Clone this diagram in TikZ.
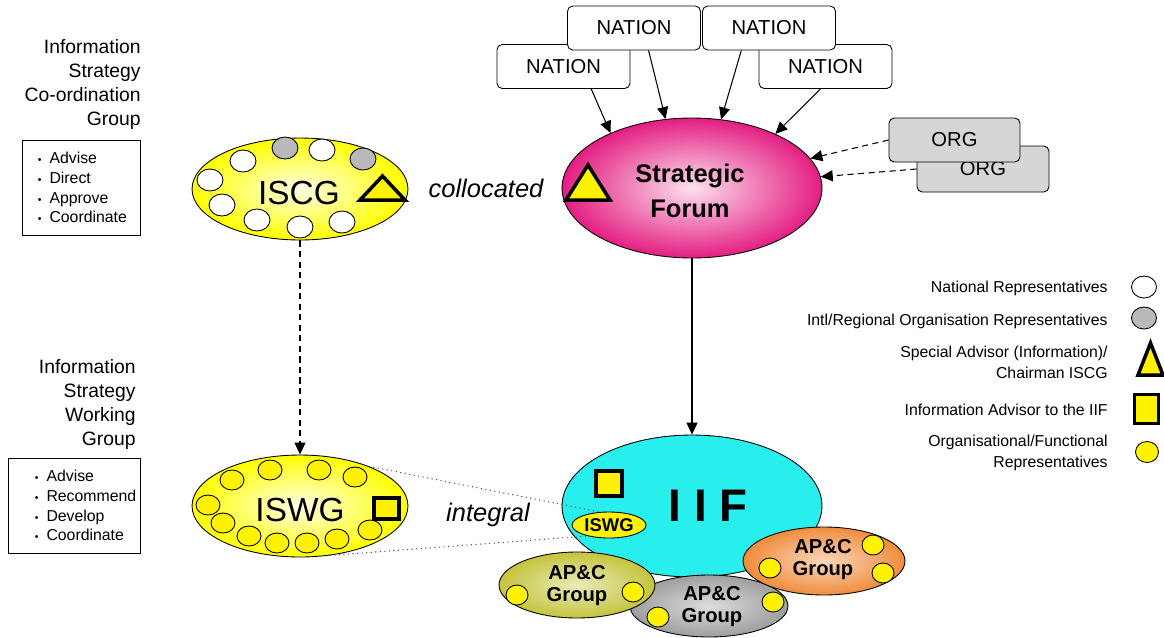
\documentclass[tikz,border=0pt]{standalone}
\usepackage{fontspec}
\setmainfont{Liberation Sans}
\usepackage{tikz}
\usetikzlibrary{shapes,arrows,arrows.meta}
\usetikzlibrary{positioning}

\definecolor{sfpink}{RGB}{228,30,130}
\definecolor{sflight}{RGB}{252,225,238}
\definecolor{iifcyan}{RGB}{40,238,238}
\definecolor{apcolive}{RGB}{196,196,60}
\definecolor{apcgrey}{RGB}{158,158,158}
\definecolor{apcorange}{RGB}{240,140,60}
\definecolor{orggrey}{RGB}{214,214,214}
\definecolor{repgrey}{RGB}{185,185,185}

\newcommand{\dutydot}{{\fontsize{6}{6}\selectfont\textbullet}\enspace}

\tikzset{
  grp/.style={ellipse, draw=black, line width=0.5pt, inner sep=0pt},
  yellowgrp/.style={grp, inner color=yellow!10, outer color=yellow},
  rep/.style={ellipse, draw=black, line width=0.5pt, inner sep=0pt, minimum width=0.52cm, minimum height=0.44cm},
  natrep/.style={rep, fill=white},
  orgrep/.style={rep, fill=repgrey},
  funrep/.style={rep, fill=yellow, minimum width=0.48cm, minimum height=0.40cm},
  chairsym/.style={draw=black, line width=2pt, fill=yellow, line join=miter},
  advsym/.style={draw=black, line width=2pt, fill=yellow, inner sep=0pt},
  nationbox/.style={draw, line width=0.5pt, rounded corners=3pt, fill=white, minimum width=2.66cm, minimum height=0.88cm, font=\fontsize{11.5}{13}\selectfont},
  orgbox/.style={nationbox, fill=orggrey},
  sidetitle/.style={align=right, anchor=east, inner sep=0pt, font=\fontsize{11}{13.8}\selectfont},
  dutybox/.style={draw, line width=0.5pt, minimum height=1.9cm},
  duties/.style={align=left, inner sep=0pt, font=\fontsize{9}{11.3}\selectfont},
  bigname/.style={inner sep=0pt, font=\fontsize{19}{22}\selectfont},
  linkword/.style={inner sep=0pt, font=\fontsize{14.5}{17}\selectfont\itshape},
  apctext/.style={align=center, inner sep=0pt, font=\fontsize{11.5}{12.5}\selectfont\bfseries},
  keytext/.style={align=right, anchor=east, inner sep=0pt, font=\fontsize{9}{11.6}\selectfont},
  flow/.style={-{Triangle[length=2.4mm,width=2.2mm]}, line width=0.6pt},
  link/.style={dotted, line width=0.6pt, black!70}
}

\begin{document}
\begin{tikzpicture}[x=0.02cm,y=-0.02cm]
\useasboundingbox (0,0) rectangle (1164,637);

% left hand titles
\node[sidetitle] (iscgtitle) at (141,84.5) {Information\\Strategy\\Co-ordination\\Group};
\node[dutybox, minimum width=2.36cm] (iscgbox) at (81,187.5) {};
\node[duties, right=0.32cm of iscgbox.west] (iscgduties) {\dutydot Advise\\\dutydot Direct\\\dutydot Approve\\\dutydot Coordinate};

\node[sidetitle] (iswgtitle) at (136,404.5) {Information\\Strategy\\Working\\Group};
\node[dutybox, minimum width=2.64cm] (iswgbox) at (74,505.5) {};
\node[duties, right=0.54cm of iswgbox.west] (iswgduties) {\dutydot Advise\\\dutydot Recommend\\\dutydot Develop\\\dutydot Coordinate};

% ISCG
\node[yellowgrp, minimum width=4.32cm, minimum height=2.04cm] (iscg) at (300,189) {};
\foreach \x/\y in {243/161, 322/150, 210/180, 222/205, 257/220, 300/227, 342/222}
  \node[natrep] (iscg-\x) at (\x,\y) {};
\foreach \x/\y in {285/148, 363/159}
  \node[orgrep] (iscg-\x) at (\x,\y) {};
\node[bigname] (iscgname) at (299,193) {ISCG};
\draw[chairsym] (360,200) -- (382.5,176) -- (405,200) -- cycle;

\node[linkword] (colloc) at (486,188) {collocated};

% nations and orgs
\node[nationbox] (nat3) at (563.5,66.5) {NATION};
\node[nationbox] (nat4) at (825.5,66.5) {NATION};
\node[nationbox] (nat1) at (634,28) {NATION};
\node[nationbox] (nat2) at (769,28) {NATION};
\node[orgbox, minimum width=2.64cm, minimum height=0.92cm] (org2) at (983,169) {ORG};
\node[orgbox, minimum width=2.62cm] (org1) at (954.5,140) {ORG};

% strategic forum
\node[grp, inner color=sflight, outer color=sfpink, minimum width=5.2cm, minimum height=2.8cm] (sf) at (692,188) {};
\node[align=center, inner sep=0pt, font=\fontsize{14.5}{19.5}\selectfont\bfseries] (sfname) at (690,191) {Strategic\\Forum};
\draw[chairsym] (566,200) -- (588,165) -- (610,200) -- cycle;

\draw[flow] (nat3.-39) -- (sf.146);
\draw[flow] (nat1.-57) -- (sf.111);
\draw[flow] (nat2.-141) -- (sf.67);
\draw[flow] (nat4.-103) -- (sf.33);
\draw[flow, dash pattern=on 3.5pt off 2.5pt] (org1.west) -- (sf.14);
\draw[flow, dash pattern=on 3.5pt off 2.5pt] (org2.west) -- (sf.5);

% ISWG
\node[yellowgrp, minimum width=4.32cm, minimum height=2.04cm] (iswg) at (300,506) {};
\foreach \x/\y in {232/480, 270/470, 319/470, 355/477, 208/505, 223/523, 249/536, 277/543, 307/543, 337/539, 370/530}
  \node[funrep] (iswg-\x) at (\x,\y) {};
\node[bigname] (iswgname) at (300,510) {ISWG};
\node[advsym, minimum width=0.50cm, minimum height=0.42cm] (iswgadv) at (386.5,508.5) {};

\draw[flow, dash pattern=on 3.5pt off 2.5pt] (iscg.south) -- (iswg.north);

\node[linkword] (integ) at (488,515) {integral};

% IIF
\node[grp, fill=iifcyan, minimum width=5.2cm, minimum height=2.84cm] (iif) at (692,506) {};
\node[inner sep=0pt, font=\fontsize{26}{30}\selectfont\bfseries] (iifname) at (708,506) {I I F};
\node[advsym, minimum width=0.52cm, minimum height=0.50cm] (iifadv) at (609,483.5) {};
\node[grp, fill=yellow, minimum width=1.48cm, minimum height=0.52cm] (iswgin) at (609,525) {};
\node[inner sep=0pt, font=\fontsize{10.5}{12}\selectfont\bfseries] (iswginname) at (609,525) {ISWG};

\draw[flow] (sf.south) -- (iif.north);

% AP&C groups
\node[grp, inner color=apcgrey!35, outer color=apcgrey, minimum width=3.16cm, minimum height=1.24cm] (apcs) at (709,606) {};
\node[apctext] (apcsname) at (712,607) {AP\&C\\Group};
\foreach \x/\y in {658/617, 773/602}
  \node[funrep, minimum width=0.44cm] (apcs-\x) at (\x,\y) {};

\node[grp, inner color=apcolive!35, outer color=apcolive, minimum width=3.12cm, minimum height=1.32cm] (apcw) at (577,585) {};
\node[apctext] (apcwname) at (577,586) {AP\&C\\Group};
\foreach \x/\y in {517/595, 633/592}
  \node[funrep, minimum width=0.44cm] (apcw-\x) at (\x,\y) {};

\node[grp, inner color=apcorange!35, outer color=apcorange, minimum width=3.24cm, minimum height=1.36cm] (apce) at (824,561) {};
\node[apctext] (apcename) at (823,560) {AP\&C\\Group};
\foreach \x/\y in {873/545, 770/568, 883/573}
  \node[funrep, minimum width=0.44cm] (apce-\x) at (\x,\y) {};

\draw[link] (iswg.30) -- (iswgin.125);
\draw[link] (iswg.-59) -- (iswgin.207);

% key
\node[keytext] (natkeytext) at (1108,288) {National Representatives};
\node[natrep, minimum width=0.5cm] (natkey) at (1144,287) {};
\node[keytext] (orgkeytext) at (1108,321) {Intl/Regional Organisation Representatives};
\node[orgrep, minimum width=0.5cm] (orgkey) at (1144,318) {};
\node[keytext] (chairkeytext) at (1108,362.5) {Special Advisor (Information)/\\Chairman ISCG};
\draw[chairsym] (1138,375) -- (1150.5,343) -- (1163,375) -- cycle;
\node[keytext] (advkeytext) at (1108,410) {Information Advisor to the IIF};
\node[advsym, minimum width=0.48cm, minimum height=0.58cm] (advkey) at (1146.5,409) {};
\node[keytext] (funkeytext) at (1108,453) {Organisational/Functional\\Representatives};
\node[funrep, minimum width=0.46cm, minimum height=0.42cm] (funkey) at (1147,452) {};

\end{tikzpicture}
\end{document}
